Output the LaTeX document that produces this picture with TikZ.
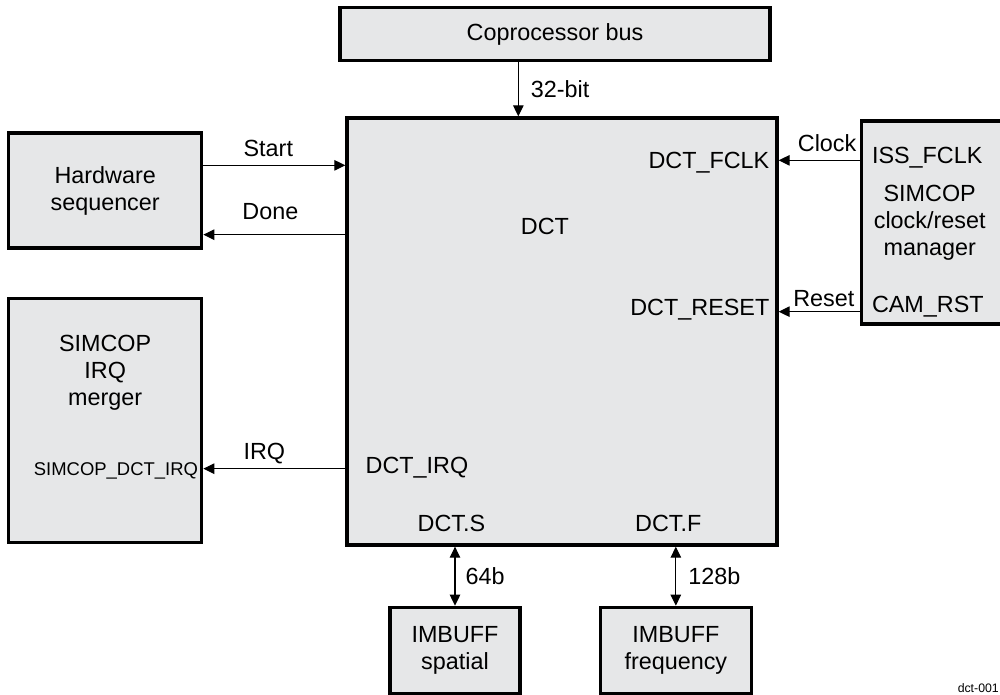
\documentclass[tikz,border=0pt]{standalone}
\usepackage{fontspec}
\setmainfont{Liberation Sans}
\usetikzlibrary{arrows.meta,positioning,calc}
\definecolor{boxgrey}{HTML}{E6E7E8}
\tikzset{
  block/.style      = {draw=black, line width=1.9pt, fill=boxgrey, inner sep=2pt, align=center},
  sig/.style        = {-{Triangle[length=2.2mm,width=2.1mm]}, line width=0.6pt},
  bisig/.style      = {{Triangle[length=2.2mm,width=2.1mm]}-{Triangle[length=2.2mm,width=2.1mm]}, line width=0.6pt},
  every node/.style = {font=\fontsize{13.3}{15.4}\selectfont, align=center},
  lbl/.style        = {inner sep=0pt, text depth=0pt},
  smalllbl/.style   = {lbl, font=\fontsize{10.5}{12}\selectfont},
}
\begin{document}
\begin{tikzpicture}
  \useasboundingbox (0,0) rectangle (20,-13.88);
  \node[block, minimum width=86mm, minimum height=85.4mm] (dct) at (11.24,-6.63) {};
  \node[lbl] (dctname) at ($(dct.north)+(-0.34,-2.2)$) {DCT};
  \node[block, minimum width=86mm, minimum height=10.6mm, above right=10.8mm and -1.4mm of dct.north west] (cop) {Coprocessor bus};
  \node[block, minimum width=38.6mm, minimum height=23mm, below left=3mm and 28.4mm of dct.north west] (hw) {Hardware\\sequencer};
  \node[block, minimum width=38.6mm, minimum height=48.8mm, below=9.4mm of hw] (mrg) {};
  \node (mrgname) at ($(mrg.north)+(0,-1.53)$) {SIMCOP\\IRQ\\merger};
  \node[block, minimum width=34mm, minimum height=40.6mm, below right=0.6mm and 16.2mm of dct.north east] (mgr) {};
  \node (mgrname) at ($(mgr.west)+(1.4,0)$) {SIMCOP\\clock/reset\\manager};
  \node[block, minimum width=26mm, minimum height=17.2mm, below right=11.8mm and 8.6mm of dct.south west] (sp) {IMBUFF\\spatial};
  \node[block, minimum width=30.2mm, minimum height=17.2mm, right=15.4mm of sp] (fq) {IMBUFF\\frequency};
  % bus and sequencer handshake
  \coordinate (bus) at ([xshift=36mm]cop.south west);
  \draw[sig] (bus) -- (bus |- dct.north) node[midway, right=2.4mm, lbl] {32-bit};
  \coordinate (st) at ([yshift=-6.8mm]hw.north east);
  \draw[sig] (st) -- (st -| dct.west) node[midway, above=1.7mm, lbl, xshift=-1.2mm] {Start};
  \coordinate (dn) at ([yshift=3mm]hw.south east);
  \draw[sig] (dn -| dct.west) -- (dn) node[midway, above=2.9mm, lbl, xshift=-0.8mm] {Done};
  % clock and reset
  \coordinate (ck) at ([yshift=-8.2mm]mgr.north west);
  \draw[sig] (ck) -- (ck -| dct.east);
  \node[lbl, above left=1.7mm and 0.6mm of ck] (cklbl) {Clock};
  \coordinate (rs) at ([yshift=2.8mm]mgr.south west);
  \draw[sig] (rs) -- (rs -| dct.east);
  \node[lbl, above left=0.9mm and 1mm of rs] (rslbl) {Reset};
  \node[lbl, anchor=east] (fclk) at ($(ck -| dct.east)+(-0.18,0)$) {DCT\_FCLK};
  \node[lbl, anchor=east] (rst) at ($(rs -| dct.east)+(-0.18,0.08)$) {DCT\_RESET};
  \node[lbl, anchor=west] (issclk) at ($(ck)+(0.24,0.1)$) {ISS\_FCLK};
  \node[lbl, anchor=west] (camrst) at ($(rs)+(0.24,0.14)$) {CAM\_RST};
  % interrupt
  \coordinate (irq) at ([yshift=-34.4mm]mrg.north east);
  \draw[sig] (irq -| dct.west) -- (irq) node[midway, above=1.7mm, lbl, xshift=-2mm] {IRQ};
  \node[lbl, anchor=west] (dctirq) at ($(irq -| dct.west)+(0.4,0.07)$) {DCT\_IRQ};
  \node[smalllbl, anchor=east] (simirq) at ($(irq)+(-0.1,0)$) {SIMCOP\_DCT\_IRQ};
  % image buffers
  \draw[bisig] (sp.north) -- (sp.north |- dct.south) node[midway, right=2mm, lbl] {64b};
  \draw[bisig] (fq.north) -- (fq.north |- dct.south) node[midway, right=2.4mm, lbl] {128b};
  \node[lbl, anchor=south] (dcts) at ($(sp.north |- dct.south)+(-0.07,0.3)$) {DCT.S};
  \node[lbl, anchor=south] (dctf) at ($(fq.north |- dct.south)+(-0.15,0.3)$) {DCT.F};
  \node[lbl, anchor=south east, font=\fontsize{7}{8}\selectfont, inner sep=0.5pt] (figid) at (20,-13.88) {dct-001};
\end{tikzpicture}
\end{document}
